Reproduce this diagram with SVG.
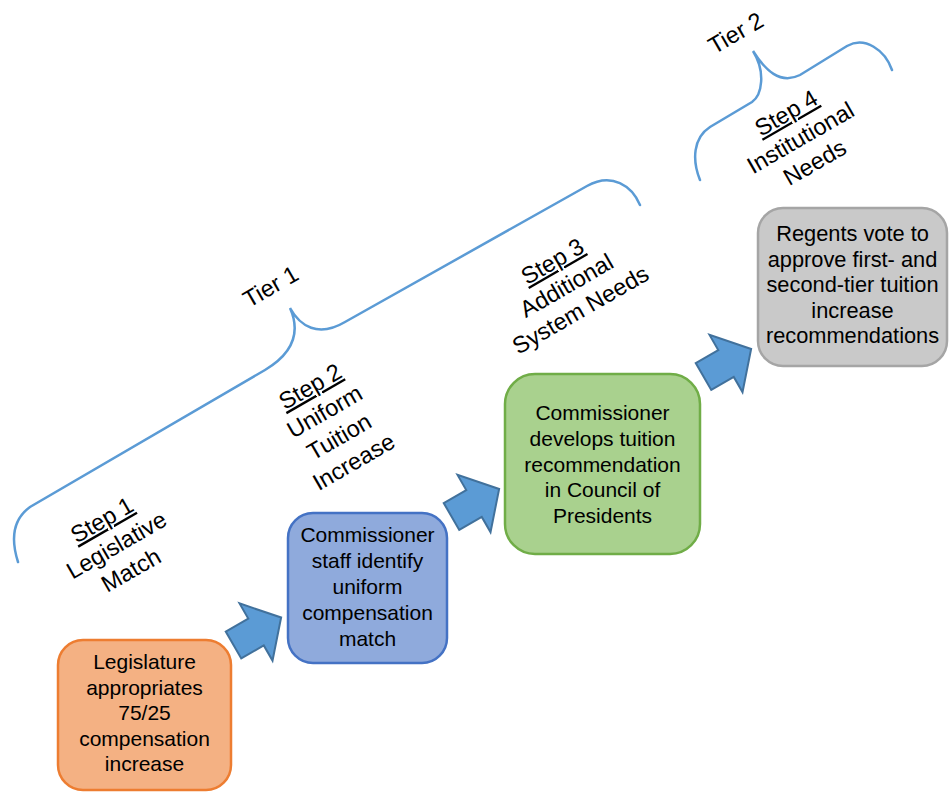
<svg xmlns="http://www.w3.org/2000/svg" width="949" height="792" viewBox="0 0 949 792">
<style>
.nt{font-family:"Liberation Sans",Arial,sans-serif;font-size:21px;fill:#000;text-anchor:middle}
.n4{font-size:21.8px}
.st{font-family:"Liberation Sans",Arial,sans-serif;font-size:23.5px;fill:#000;text-anchor:middle}
.u{text-decoration:underline}
.brace{fill:none;stroke:#5B9BD5;stroke-width:2.5;stroke-linecap:round}
.arr{fill:#5B9BD5;stroke:#41719C;stroke-width:2;stroke-linejoin:miter}
</style>
<defs>
<path id="blk" d="M0,-15.5 H26 V-33 L55,0 L26,33 V15.5 H0 Z"/>
</defs>
<rect width="949" height="792" fill="#fff"/>
<g id="braces">
<path class="brace" d="M18,562 C11,540 12,520 30,507 L265,370 C290,355 302,335 290,308 C300,326 318,338 345,322 L587,186 C612,172 632,186 640,205"/>
<path class="brace" d="M700,180 C692,160 693,138 710,127 L752,102 C762,95 766,72 753,51 C765,70 780,85 800,75 L847,46 C865,36 885,50 892,70"/>
</g>
<g id="labels">
<text class="st" transform="translate(274.7,293.4) rotate(-30)">Tier 1</text>
<text class="st" transform="translate(739.8,39.9) rotate(-30)">Tier 2</text>
<g transform="translate(120.5,552) rotate(-30)">
<text class="st u" y="-29">Step 1</text>
<text class="st" y="0">Legislative</text>
<text class="st" y="29">Match</text>
</g>
<g transform="translate(328.7,418.5) rotate(-30)">
<text class="st u" y="-29">Step 2</text>
<text class="st" y="0">Uniform</text>
<text class="st" y="29">Tuition</text>
<text class="st" y="58">Increase</text>
</g>
<g transform="translate(570.5,292.5) rotate(-30)">
<text class="st u" y="-28">Step 3</text>
<text class="st" y="0">Additional</text>
<text class="st" y="28">System Needs</text>
</g>
<g transform="translate(804.5,144.7) rotate(-30)">
<text class="st u" y="-28.5">Step 4</text>
<text class="st" y="0">Institutional</text>
<text class="st" y="28.5">Needs</text>
</g>
</g>
<g id="connectors">
<use href="#blk" class="arr" transform="translate(233.5,645) rotate(-30)"/>
<use href="#blk" class="arr" transform="translate(451.5,516.5) rotate(-30)"/>
<use href="#blk" class="arr" transform="translate(703.5,376.5) rotate(-30)"/>
</g>
<g id="node1">
<rect x="58" y="640" width="173" height="150" rx="25" fill="#F4B183" stroke="#ED7D31" stroke-width="2.5"/>
<text class="nt" x="144.5" y="669">Legislature</text>
<text class="nt" x="144.5" y="694.6">appropriates</text>
<text class="nt" x="144.5" y="720.2">75/25</text>
<text class="nt" x="144.5" y="745.8">compensation</text>
<text class="nt" x="144.5" y="771.4">increase</text>
</g>
<g id="node2">
<rect x="288" y="513" width="159" height="150" rx="25" fill="#8FAADC" stroke="#4472C4" stroke-width="2.5"/>
<text class="nt" x="367.5" y="541.7">Commissioner</text>
<text class="nt" x="367.5" y="567.7">staff identify</text>
<text class="nt" x="367.5" y="593.7">uniform</text>
<text class="nt" x="367.5" y="619.7">compensation</text>
<text class="nt" x="367.5" y="645.7">match</text>
</g>
<g id="node3">
<rect x="505" y="374" width="195" height="180" rx="30" fill="#A9D18E" stroke="#70AD47" stroke-width="2.5"/>
<text class="nt" x="602.5" y="420">Commissioner</text>
<text class="nt" x="602.5" y="445.8">develops tuition</text>
<text class="nt" x="602.5" y="471.6">recommendation</text>
<text class="nt" x="602.5" y="497.4">in Council of</text>
<text class="nt" x="602.5" y="523.2">Presidents</text>
</g>
<g id="node4">
<rect x="758" y="208" width="189" height="158" rx="25" fill="#C9C9C9" stroke="#A5A5A5" stroke-width="2.5"/>
<text class="nt n4" x="852.5" y="241">Regents vote to</text>
<text class="nt n4" x="852.5" y="266.5">approve first- and</text>
<text class="nt n4" x="852.5" y="292">second-tier tuition</text>
<text class="nt n4" x="852.5" y="317.5">increase</text>
<text class="nt n4" x="852.5" y="343">recommendations</text>
</g>
</svg>
